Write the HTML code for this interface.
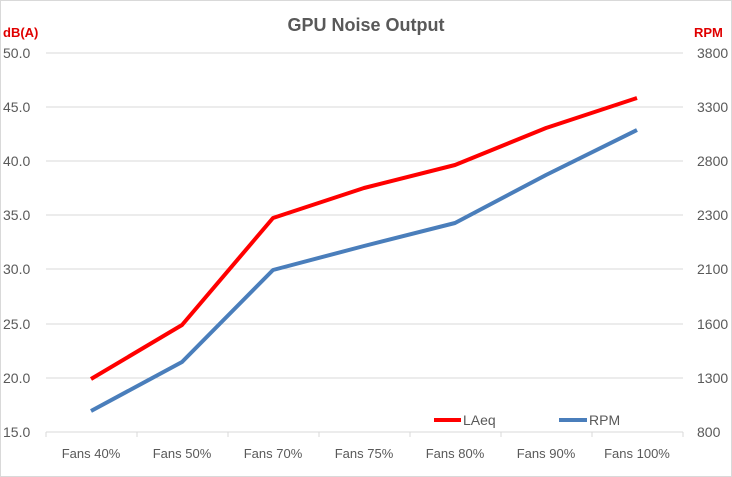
<!DOCTYPE html>
<html><head><style>
body{margin:0;background:#fff}
svg{display:block}
text{font-family:"Liberation Sans",sans-serif}
</style></head><body>
<svg width="732" height="477" viewBox="0 0 732 477">
<rect x="0.5" y="0.5" width="731" height="476" fill="#fff" stroke="#d9d9d9"/>
<text x="366" y="31" text-anchor="middle" font-size="18" font-weight="bold" fill="#595959">GPU Noise Output</text>
<text x="3" y="37" font-size="13" font-weight="bold" fill="#e00000">dB(A)</text>
<text x="694" y="37" font-size="13" font-weight="bold" fill="#e00000">RPM</text>
<g stroke="#d9d9d9" stroke-width="1">
<line x1="46" x2="683" y1="53" y2="53"/><line x1="46" x2="683" y1="107" y2="107"/>
<line x1="46" x2="683" y1="161" y2="161"/><line x1="46" x2="683" y1="215" y2="215"/>
<line x1="46" x2="683" y1="269" y2="269"/><line x1="46" x2="683" y1="324" y2="324"/>
<line x1="46" x2="683" y1="378" y2="378"/><line x1="46" x2="683" y1="432" y2="432"/>
<line x1="46" x2="46" y1="432" y2="437"/><line x1="137" x2="137" y1="432" y2="437"/>
<line x1="228" x2="228" y1="432" y2="437"/><line x1="319" x2="319" y1="432" y2="437"/>
<line x1="410" x2="410" y1="432" y2="437"/><line x1="501" x2="501" y1="432" y2="437"/>
<line x1="592" x2="592" y1="432" y2="437"/><line x1="683" x2="683" y1="432" y2="437"/>
</g>
<g font-size="14" fill="#595959">
<text x="3" y="58">50.0</text><text x="3" y="112">45.0</text><text x="3" y="166">40.0</text>
<text x="3" y="220">35.0</text><text x="3" y="274">30.0</text><text x="3" y="329">25.0</text>
<text x="3" y="383">20.0</text><text x="3" y="437">15.0</text>
<text x="697" y="58">3800</text><text x="697" y="112">3300</text><text x="697" y="166">2800</text>
<text x="697" y="220">2300</text><text x="697" y="274">2100</text><text x="697" y="329">1600</text>
<text x="697" y="383">1300</text><text x="697" y="437">800</text>
</g>
<g font-size="13" fill="#595959" text-anchor="middle">
<text x="91" y="458">Fans 40%</text><text x="182" y="458">Fans 50%</text><text x="273" y="458">Fans 70%</text>
<text x="364" y="458">Fans 75%</text><text x="455" y="458">Fans 80%</text><text x="546" y="458">Fans 90%</text>
<text x="637" y="458">Fans 100%</text>
</g>
<polyline fill="none" stroke="#ff0000" stroke-width="4" stroke-linejoin="round" points="91,379 182,325 273,218 364,188 455,165 546,128 637,98"/>
<polyline fill="none" stroke="#4a7ebb" stroke-width="4" stroke-linejoin="round" points="91,411 182,362 273,270 364,246 455,223 546,175 637,130"/>
<line x1="434" x2="461" y1="420" y2="420" stroke="#ff0000" stroke-width="4"/>
<text x="463" y="425" font-size="14" fill="#595959">LAeq</text>
<line x1="559" x2="587" y1="420" y2="420" stroke="#4a7ebb" stroke-width="4"/>
<text x="589" y="425" font-size="14" fill="#595959">RPM</text>
</svg>
</body></html>
